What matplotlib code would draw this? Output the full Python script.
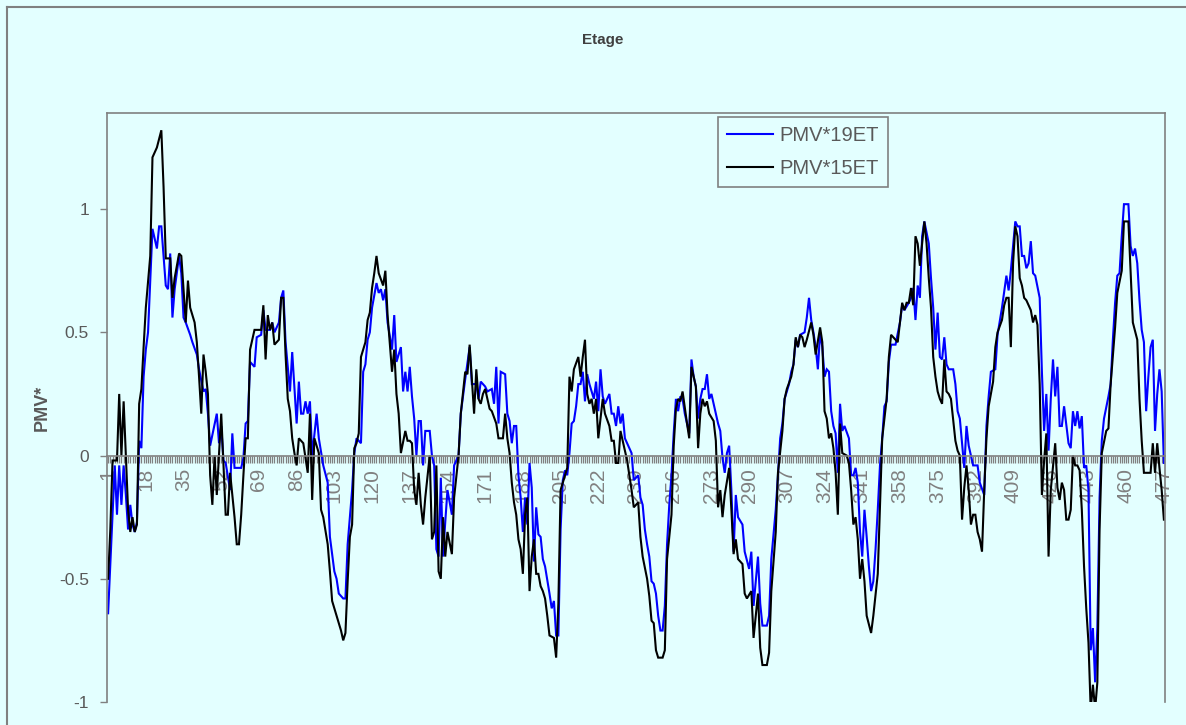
import matplotlib
matplotlib.use("Agg")
import matplotlib.pyplot as plt
from matplotlib.lines import Line2D
from matplotlib.ticker import FixedLocator

# category axis: 477 time steps, labelled every 17th
n_points = 477
x_tick_labels = [1, 18, 35, 52, 69, 86, 103, 120, 137, 154, 171, 188, 205, 222, 239,
                 256, 273, 290, 307, 324, 341, 358, 375, 392, 409, 426, 443, 460, 477]
y_ticks = [-1, -0.5, 0, 0.5, 1]
y_tick_labels = ["-1", "-0.5", "0", "0.5", "1"]

# PMV*19ET (blue), category index / value
pmv19_idx = [1, 4, 5, 6, 7, 8, 9, 10, 11, 12, 13, 14, 15, 16, 17, 18, 19, 21, 23, 24,
             25, 27, 28, 29, 30, 31, 33, 34, 35, 36, 38, 39, 41, 42, 44, 45, 46, 47, 50, 51,
             52, 53, 54, 56, 57, 58, 61, 62, 63, 64, 65, 67, 68, 70, 71, 72, 74, 75, 76, 78,
             79, 80, 81, 83, 84, 86, 87, 88, 89, 90, 91, 92, 93, 95, 96, 98, 100, 101, 103, 104,
             105, 107, 108, 109, 110, 111, 112, 113, 115, 116, 117, 118, 119, 120, 122, 123, 124, 125, 126, 127,
             129, 130, 131, 133, 134, 135, 136, 137, 138, 139, 140, 141, 142, 143, 144, 146, 147, 148, 149, 150,
             151, 152, 153, 154, 156, 157, 159, 160, 162, 164, 165, 167, 168, 169, 171, 172, 174, 175, 176, 177,
             178, 180, 181, 182, 183, 184, 185, 186, 187, 188, 189, 190, 191, 192, 193, 194, 195, 196, 197, 198,
             200, 201, 202, 203, 204, 205, 206, 207, 208, 209, 210, 211, 212, 213, 214, 215, 216, 217, 218, 220,
             221, 222, 223, 224, 225, 227, 228, 229, 230, 231, 232, 233, 234, 236, 237, 238, 240, 241, 242, 243,
             244, 245, 246, 247, 248, 249, 250, 251, 252, 253, 254, 255, 256, 257, 258, 259, 260, 261, 263, 264,
             265, 266, 267, 268, 269, 270, 271, 272, 273, 275, 276, 277, 278, 279, 280, 281, 282, 283, 284, 285,
             287, 288, 290, 291, 292, 294, 295, 296, 298, 299, 300, 302, 303, 304, 305, 306, 308, 309, 310, 311,
             312, 313, 315, 316, 317, 318, 319, 320, 321, 322, 323, 324, 325, 326, 327, 328, 329, 330, 331, 332,
             333, 335, 336, 337, 338, 339, 340, 341, 342, 343, 344, 345, 346, 347, 348, 349, 350, 351, 352, 353,
             354, 356, 358, 359, 360, 362, 363, 364, 365, 366, 367, 368, 369, 371, 372, 373, 374, 375, 376, 377,
             378, 379, 380, 382, 383, 384, 385, 387, 388, 389, 390, 391, 393, 394, 396, 397, 398, 399, 401, 402,
             404, 406, 407, 408, 410, 411, 412, 413, 414, 415, 416, 417, 418, 419, 421, 422, 423, 424, 425, 426,
             427, 428, 429, 430, 431, 432, 434, 435, 436, 437, 438, 439, 440, 441, 442, 443, 444, 445, 446, 447,
             448, 449, 450, 452, 453, 454, 455, 456, 457, 458, 459, 461, 462, 463, 464, 465, 466, 467, 468, 469,
             470, 471, 472, 473, 474, 475, 476, 477]
pmv19_val = [-0.64, -0.04, -0.24, -0.04, -0.2, -0.04, -0.16, -0.3, -0.2, -0.28, -0.31, -0.27, 0.06, 0.03, 0.32, 0.43, 0.5, 0.92, 0.84, 0.93,
             0.93, 0.69, 0.675, 0.82, 0.56, 0.675, 0.81, 0.74, 0.56, 0.54, 0.49, 0.46, 0.41, 0.35, 0.26, 0.27, 0.17, 0.04, 0.17, 0.05,
             0.12, -0.02, -0.03, -0.14, 0.09, -0.05, -0.05, -0.01, 0.13, 0.14, 0.38, 0.36, 0.48, 0.49, 0.59, 0.51, 0.51, 0.54, 0.5, 0.54,
             0.64, 0.67, 0.46, 0.26, 0.42, 0.13, 0.3, 0.17, 0.17, 0.22, 0.17, 0.22, 0.0, 0.17, 0.07, -0.04, -0.11, -0.33, -0.47, -0.5,
             -0.56, -0.58, -0.58, -0.36, -0.25, -0.14, 0.01, 0.07, 0.05, 0.34, 0.37, 0.47, 0.5, 0.6, 0.7, 0.66, 0.675, 0.63, 0.675, 0.54,
             0.43, 0.57, 0.38, 0.44, 0.26, 0.34, 0.26, 0.36, 0.24, 0.15, 0.0, 0.14, 0.14, -0.04, 0.1, 0.1, 0.0, -0.04, -0.38, -0.41,
             -0.09, -0.41, -0.27, -0.14, -0.24, -0.04, 0.0, 0.17, 0.31, 0.44, 0.29, 0.29, 0.23, 0.3, 0.28, 0.26, 0.27, 0.21, 0.36, 0.13,
             0.34, 0.33, 0.17, 0.14, 0.05, 0.12, 0.12, -0.08, -0.17, -0.31, -0.17, -0.28, -0.03, -0.13, -0.43, -0.21, -0.32, -0.33, -0.42, -0.45,
             -0.56, -0.62, -0.59, -0.73, -0.73, -0.3, -0.1, -0.06, -0.08, 0.01, 0.13, 0.14, 0.2, 0.29, 0.29, 0.34, 0.22, 0.33, 0.29, 0.23,
             0.3, 0.18, 0.35, 0.24, 0.21, 0.25, 0.17, 0.17, 0.12, 0.2, 0.13, 0.17, 0.07, 0.03, 0.01, -0.1, -0.08, -0.17, -0.2, -0.3,
             -0.36, -0.41, -0.51, -0.52, -0.56, -0.65, -0.71, -0.71, -0.61, -0.36, -0.2, -0.08, 0.09, 0.23, 0.18, 0.24, 0.23, 0.17, 0.09, 0.39,
             0.32, 0.28, 0.15, 0.23, 0.27, 0.27, 0.33, 0.23, 0.25, 0.17, 0.13, 0.1, -0.01, -0.07, 0.01, 0.04, -0.14, -0.39, -0.16, -0.25,
             -0.28, -0.39, -0.46, -0.39, -0.61, -0.41, -0.6, -0.69, -0.69, -0.65, -0.42, -0.22, -0.08, 0.07, 0.13, 0.23, 0.29, 0.34, 0.37, 0.47,
             0.44, 0.49, 0.5, 0.56, 0.64, 0.55, 0.5, 0.44, 0.35, 0.5, 0.44, 0.32, 0.35, 0.34, 0.18, 0.12, 0.09, -0.07, 0.21, 0.1,
             0.12, 0.07, -0.08, -0.08, -0.05, -0.11, -0.31, -0.41, -0.22, -0.33, -0.45, -0.55, -0.51, -0.38, -0.22, -0.04, 0.07, 0.2, 0.22, 0.38,
             0.45, 0.45, 0.54, 0.61, 0.59, 0.62, 0.64, 0.68, 0.55, 0.69, 0.64, 0.89, 0.95, 0.86, 0.72, 0.6, 0.43, 0.58, 0.4, 0.39,
             0.48, 0.37, 0.35, 0.35, 0.29, 0.18, 0.15, -0.05, 0.12, 0.04, 0.0, -0.04, -0.04, -0.11, -0.16, 0.12, 0.24, 0.34, 0.35, 0.49,
             0.6, 0.73, 0.67, 0.75, 0.95, 0.93, 0.93, 0.81, 0.81, 0.76, 0.78, 0.87, 0.74, 0.73, 0.64, 0.34, 0.1, 0.25, 0.02, 0.23,
             0.39, 0.24, 0.36, 0.12, 0.12, 0.2, 0.05, 0.03, 0.18, 0.12, 0.18, 0.11, 0.16, -0.05, -0.04, -0.14, -0.79, -0.7, -0.92, -0.7,
             -0.17, 0.06, 0.15, 0.24, 0.29, 0.47, 0.62, 0.73, 0.74, 0.89, 1.02, 1.02, 0.85, 0.81, 0.84, 0.78, 0.63, 0.51, 0.46, 0.18,
             0.32, 0.44, 0.47, 0.1, 0.25, 0.35, 0.26, -0.03]

# PMV*15ET (black)
pmv15_idx = [1, 2, 3, 5, 6, 7, 8, 9, 10, 11, 12, 13, 14, 15, 16, 17, 18, 20, 21, 23,
             25, 26, 27, 29, 30, 31, 33, 34, 35, 36, 37, 38, 40, 41, 42, 43, 44, 45, 46, 47,
             48, 49, 50, 52, 54, 55, 56, 58, 59, 60, 61, 62, 63, 64, 65, 67, 70, 71, 72, 73,
             74, 75, 76, 78, 79, 80, 81, 82, 83, 84, 85, 86, 87, 89, 91, 92, 93, 94, 96, 97,
             98, 100, 101, 102, 104, 106, 107, 108, 109, 110, 111, 112, 113, 114, 115, 117, 118, 119, 120, 121,
             122, 123, 125, 126, 127, 129, 130, 131, 132, 133, 135, 136, 137, 138, 139, 140, 141, 142, 143, 144,
             146, 147, 148, 149, 150, 151, 152, 153, 154, 156, 157, 159, 160, 162, 163, 164, 166, 167, 168, 169,
             170, 171, 173, 174, 176, 177, 179, 180, 181, 182, 183, 184, 185, 186, 187, 188, 189, 190, 191, 192,
             193, 194, 195, 196, 197, 198, 199, 200, 202, 203, 204, 205, 207, 208, 209, 210, 211, 213, 214, 215,
             216, 217, 218, 219, 220, 221, 222, 224, 225, 227, 228, 229, 230, 231, 232, 233, 235, 236, 237, 238,
             240, 241, 242, 244, 245, 246, 247, 248, 249, 251, 252, 253, 255, 256, 257, 258, 259, 260, 262, 263,
             264, 266, 267, 268, 269, 270, 271, 272, 274, 275, 276, 277, 278, 279, 281, 282, 283, 284, 285, 287,
             288, 289, 291, 292, 294, 295, 296, 298, 299, 300, 302, 303, 305, 306, 307, 309, 310, 311, 312, 313,
             314, 315, 316, 318, 319, 320, 322, 323, 324, 325, 326, 327, 328, 329, 330, 331, 332, 334, 335, 336,
             337, 338, 339, 340, 341, 342, 343, 345, 346, 348, 349, 350, 352, 353, 354, 356, 357, 358, 359, 360,
             361, 362, 363, 364, 365, 366, 367, 369, 370, 371, 372, 373, 374, 375, 376, 377, 378, 379, 380, 381,
             383, 384, 385, 386, 387, 388, 389, 390, 391, 392, 393, 394, 395, 396, 397, 398, 400, 401, 402, 404,
             405, 406, 407, 408, 409, 410, 411, 412, 413, 414, 415, 417, 418, 419, 420, 421, 422, 423, 424, 425,
             426, 428, 429, 430, 431, 432, 433, 434, 435, 436, 437, 438, 439, 440, 441, 442, 443, 444, 445, 446,
             447, 448, 449, 451, 452, 453, 455, 456, 458, 459, 461, 462, 463, 465, 466, 467, 468, 470, 471, 472,
             473, 474, 475, 476, 477]
pmv15_val = [-0.5, -0.3, -0.02, -0.02, 0.25, 0.0, 0.22, 0.0, -0.22, -0.31, -0.25, -0.31, -0.28, 0.21, 0.27, 0.44, 0.6, 0.81, 1.21, 1.25,
             1.32, 1.09, 0.8, 0.8, 0.64, 0.72, 0.82, 0.81, 0.675, 0.54, 0.71, 0.6, 0.54, 0.46, 0.32, 0.17, 0.41, 0.34, 0.25, -0.08,
             -0.2, 0.0, -0.16, 0.17, -0.24, -0.24, -0.07, -0.25, -0.36, -0.36, -0.24, -0.08, 0.07, 0.07, 0.43, 0.51, 0.51, 0.61, 0.39, 0.57,
             0.51, 0.54, 0.45, 0.47, 0.64, 0.64, 0.41, 0.23, 0.18, 0.07, 0.01, -0.04, 0.07, 0.05, -0.07, 0.17, -0.18, 0.07, 0.01, -0.22,
             -0.25, -0.36, -0.47, -0.59, -0.65, -0.71, -0.75, -0.72, -0.51, -0.33, -0.28, 0.03, 0.05, 0.09, 0.4, 0.46, 0.55, 0.58, 0.68, 0.74,
             0.81, 0.74, 0.69, 0.75, 0.57, 0.34, 0.43, 0.25, 0.17, 0.01, 0.1, 0.06, 0.06, 0.05, -0.14, -0.2, -0.07, -0.2, -0.28, -0.17,
             0.0, -0.34, -0.31, -0.04, -0.47, -0.5, -0.25, -0.41, -0.31, -0.4, -0.17, 0.0, 0.17, 0.34, 0.33, 0.45, 0.17, 0.35, 0.23, 0.21,
             0.25, 0.27, 0.19, 0.18, 0.13, 0.07, 0.07, 0.17, 0.07, 0.01, -0.11, -0.19, -0.24, -0.34, -0.38, -0.48, -0.24, -0.17, -0.55, -0.41,
             -0.34, -0.48, -0.48, -0.53, -0.55, -0.58, -0.65, -0.73, -0.74, -0.82, -0.6, -0.14, -0.08, -0.05, 0.32, 0.26, 0.35, 0.4, 0.32, 0.4,
             0.47, 0.25, 0.21, 0.23, 0.17, 0.23, 0.07, 0.23, 0.17, 0.12, 0.06, 0.06, -0.03, -0.03, 0.1, 0.06, -0.02, -0.08, -0.14, -0.21,
             -0.19, -0.33, -0.41, -0.5, -0.57, -0.67, -0.68, -0.79, -0.82, -0.82, -0.79, -0.42, -0.24, 0.04, 0.19, 0.23, 0.22, 0.26, 0.13, 0.07,
             0.36, 0.28, 0.03, 0.17, 0.23, 0.2, 0.22, 0.17, 0.14, 0.06, -0.21, -0.14, -0.25, -0.16, -0.05, -0.22, -0.4, -0.34, -0.42, -0.44,
             -0.56, -0.58, -0.55, -0.74, -0.56, -0.78, -0.85, -0.85, -0.8, -0.55, -0.31, -0.07, 0.1, 0.23, 0.27, 0.32, 0.37, 0.48, 0.44, 0.49,
             0.48, 0.44, 0.47, 0.54, 0.49, 0.41, 0.52, 0.46, 0.18, 0.15, 0.07, 0.09, 0.03, -0.07, -0.24, 0.13, 0.01, 0.0, -0.03, -0.14,
             -0.28, -0.25, -0.34, -0.5, -0.42, -0.51, -0.65, -0.72, -0.65, -0.48, -0.2, 0.07, 0.23, 0.4, 0.49, 0.47, 0.46, 0.54, 0.62, 0.59,
             0.62, 0.62, 0.68, 0.61, 0.89, 0.86, 0.77, 0.95, 0.86, 0.72, 0.6, 0.4, 0.32, 0.26, 0.23, 0.21, 0.39, 0.26, 0.25, 0.23,
             0.06, 0.02, 0.0, -0.26, -0.13, -0.04, -0.14, -0.28, -0.24, -0.24, -0.31, -0.34, -0.39, -0.14, 0.07, 0.2, 0.3, 0.44, 0.5, 0.55,
             0.61, 0.64, 0.64, 0.44, 0.78, 0.93, 0.89, 0.72, 0.69, 0.64, 0.63, 0.59, 0.54, 0.57, 0.53, 0.29, -0.16, -0.02, 0.09, -0.41,
             -0.14, 0.05, -0.13, -0.18, -0.11, -0.14, -0.26, -0.26, -0.22, 0.0, -0.04, -0.04, -0.06, -0.22, -0.45, -0.62, -0.76, -1.03, -0.93, -1.03,
             -0.92, -0.3, 0.01, 0.1, 0.11, 0.29, 0.52, 0.66, 0.75, 0.95, 0.95, 0.75, 0.54, 0.47, 0.23, 0.06, -0.07, -0.07, -0.07, 0.05,
             -0.07, 0.05, -0.05, -0.14, -0.26]

series = [("PMV*19ET", pmv19_idx, pmv19_val, "#0000FF"),
          ("PMV*15ET", pmv15_idx, pmv15_val, "#000000")]

bg = "#E3FFFF"
grey = "#808080"
text_grey = "#595959"

plt.rcParams["font.family"] = ["Liberation Sans", "DejaVu Sans"]

fig = plt.figure(figsize=(11.86, 7.25), dpi=100, facecolor=bg)
ax = fig.add_axes([107 / 1186, 1 - 702 / 725, (1165 - 107) / 1186, (702 - 113) / 725])
ax.set_facecolor(bg)

for name, idx, val, col in series:
    ax.plot(idx, val, color=col, lw=1.5, label=name, solid_joinstyle="miter")

ax.set_xlim(0.5, n_points + 0.5)
ax.set_ylim(-1, 1.39)

# category axis crossing at zero
ax.spines["bottom"].set_position(("data", 0))
for sp in ax.spines.values():
    sp.set_color(grey)
    sp.set_linewidth(1.2)
ax.set_axisbelow(True)

ax.xaxis.set_major_locator(FixedLocator(x_tick_labels))
ax.xaxis.set_minor_locator(FixedLocator(list(range(1, n_points + 1))))
ax.set_xticklabels([str(v) for v in x_tick_labels], rotation=90, color=grey, fontsize=15)
ax.tick_params(axis="x", which="both", direction="out", length=5, width=0.9, color=grey, pad=4)

ax.set_yticks(y_ticks)
ax.set_yticklabels(y_tick_labels, color=text_grey, fontsize=12.5)
ax.tick_params(axis="y", direction="out", length=5, width=1, color=grey, pad=8)

ax.set_ylabel("PMV*", fontsize=13, fontweight="bold", color=text_grey)
ax.yaxis.set_label_coords(-0.0535, 0.5)
fig.text(603 / 1186, 1 - 40 / 725, "Etage", ha="center", va="center",
         fontsize=11, fontweight="bold", color="#404040")

leg = ax.legend(loc="upper left", bbox_to_anchor=((718 - 107) / 1058, 1 - 4 / 589),
                frameon=True, fancybox=False, facecolor=bg, edgecolor=grey, framealpha=1,
                fontsize=14.5, handlelength=2.3, handletextpad=0.3, labelspacing=0.7,
                borderpad=0.45, borderaxespad=0)
leg.get_frame().set_linewidth(1.2)
for t in leg.get_texts():
    t.set_color(text_grey)

# outer chart border (top and left visible)
fig.add_artist(Line2D([7 / 1186, 1], [1 - 7 / 725, 1 - 7 / 725], color=grey, lw=1.5))
fig.add_artist(Line2D([7 / 1186, 7 / 1186], [0, 1 - 7 / 725], color=grey, lw=1.5))

fig.savefig("out.png", dpi=100, facecolor=bg)
